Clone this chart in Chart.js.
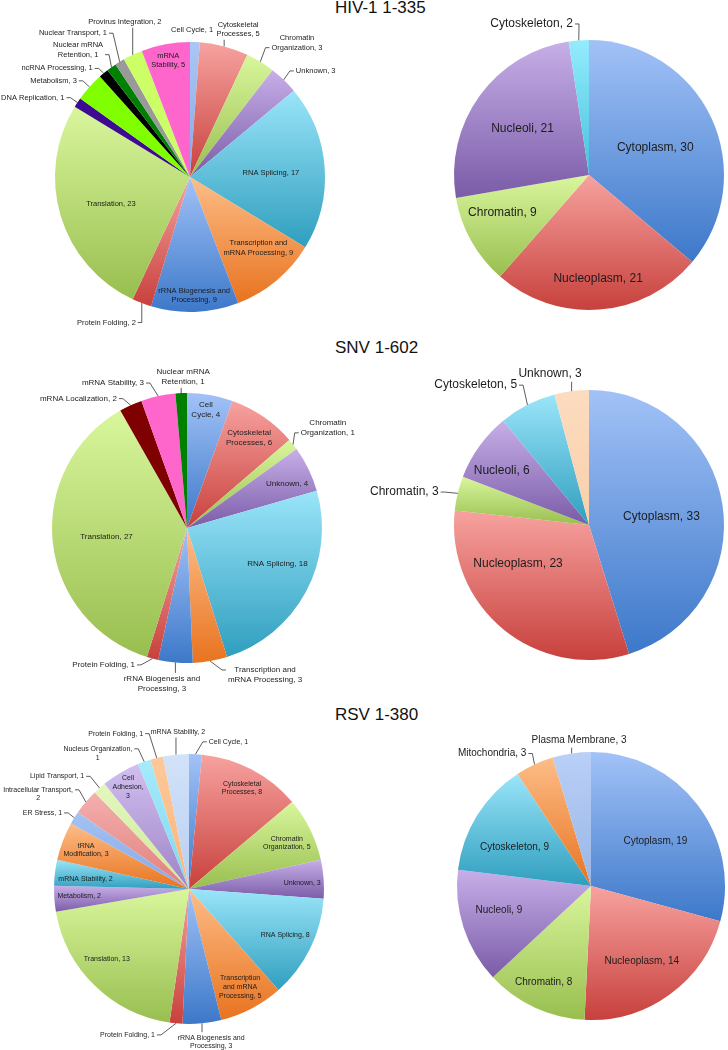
<!DOCTYPE html>
<html>
<head>
<meta charset="utf-8">
<script src="https://cdn.jsdelivr.net/npm/chart.js@4.4.0/dist/chart.umd.min.js"></script>
<style>
  body { margin: 0; background: #fff; width: 728px; height: 1050px; position: relative; overflow: hidden; font-family: "Liberation Sans", Arial, sans-serif; }
  .title { position: absolute; left: 335px; font-size: 17px; line-height: 1; color: #111; white-space: nowrap; }
  canvas { position: absolute; }
</style>
</head>
<body>
<div class="title" style="top:-1px">HIV-1 1-335</div>
<div class="title" style="top:339px">SNV 1-602</div>
<div class="title" style="top:706px">RSV 1-380</div>

<canvas id="hivFunc" width="364" height="345" style="left:0;top:0"></canvas>
<canvas id="hivLoc" width="364" height="345" style="left:364px;top:0"></canvas>
<canvas id="snvFunc" width="364" height="355" style="left:0;top:345px"></canvas>
<canvas id="snvLoc" width="364" height="355" style="left:364px;top:345px"></canvas>
<canvas id="rsvFunc" width="364" height="350" style="left:0;top:700px"></canvas>
<canvas id="rsvLoc" width="364" height="350" style="left:364px;top:700px"></canvas>

<script>
// data
const hivFuncLabels = ['Cell Cycle', 'Cytoskeletal Processes', 'Chromatin Organization', 'Unknown', 'RNA Splicing',
  'Transcription and mRNA Processing', 'rRNA Biogenesis and Processing', 'Protein Folding', 'Translation',
  'DNA Replication', 'Metabolism', 'ncRNA Processing', 'Nuclear mRNA Retention', 'Nuclear Transport',
  'Provirus Integration', 'mRNA Stability'];
const hivFuncValues = [1, 5, 3, 3, 17, 9, 9, 2, 23, 1, 3, 1, 1, 1, 2, 5];
const hivLocLabels = ['Cytoplasm', 'Nucleoplasm', 'Chromatin', 'Nucleoli', 'Cytoskeleton'];
const hivLocValues = [30, 21, 9, 21, 2];

const snvFuncLabels = ['Cell Cycle', 'Cytoskeletal Processes', 'Chromatin Organization', 'Unknown', 'RNA Splicing',
  'Transcription and mRNA Processing', 'rRNA Biogenesis and Processing', 'Protein Folding', 'Translation',
  'mRNA Localization', 'mRNA Stability', 'Nuclear mRNA Retention'];
const snvFuncValues = [4, 6, 1, 4, 18, 3, 3, 1, 27, 2, 3, 1];
const snvLocLabels = ['Cytoplasm', 'Nucleoplasm', 'Chromatin', 'Nucleoli', 'Cytoskeleton', 'Unknown'];
const snvLocValues = [33, 23, 3, 6, 5, 3];

const rsvFuncLabels = ['Cell Cycle', 'Cytoskeletal Processes', 'Chromatin Organization', 'Unknown', 'RNA Splicing',
  'Transcription and mRNA Processing', 'rRNA Biogenesis and Processing', 'Protein Folding', 'Translation',
  'Metabolism', 'mRNA Stability', 'tRNA Modification', 'ER Stress', 'Intracellular Transport', 'Lipid Transport',
  'Cell Adhesion', 'Nucleus Organization', 'Protein Folding', 'mRNA Stability'];
const rsvFuncValues = [1, 8, 5, 3, 8, 5, 3, 1, 13, 2, 2, 3, 1, 2, 1, 3, 1, 1, 2];
const rsvLocLabels = ['Cytoplasm', 'Nucleoplasm', 'Chromatin', 'Nucleoli', 'Cytoskeleton', 'Mitochondria', 'Plasma Membrane'];
const rsvLocValues = [19, 14, 8, 9, 9, 3, 3];

// colours: [top, bottom] gradient or flat
const BLUE = ['#a2c2f7', '#3c78c9'];
const RED = ['#f7a29f', '#c7403c'];
const GREEN = ['#d9f69c', '#98be4f'];
const PURPLE = ['#c7afe8', '#7a5ba7'];
const CYAN = ['#9ae5f9', '#2f9ebe'];
const ORANGE = ['#fdbd88', '#e8731f'];

const hivFuncColors = [['#a9c6f5', '#86a9e6'], RED, GREEN, PURPLE, CYAN, ORANGE, BLUE, RED, GREEN,
  '#3d0a91', '#80ff00', '#000000', '#008000', '#999999', '#ccff66', '#ff66cc'];
const hivLocColors = [BLUE, RED, GREEN, PURPLE, ['#94ecfc', '#45c2de']];
const snvFuncColors = [BLUE, RED, GREEN, PURPLE, CYAN, ORANGE, BLUE, RED, GREEN, '#7f0000', '#ff66cc', '#008000'];
const snvLocColors = [BLUE, RED, GREEN, PURPLE, CYAN, ['#fcdcc0', '#f9cfa9']];
const rsvFuncColors = [BLUE, RED, GREEN, PURPLE, CYAN, ORANGE, BLUE, RED, GREEN, PURPLE, CYAN, ORANGE,
  ['#a4c2f3', '#86a9e6'], ['#f4b0ae', '#e07e7b'], ['#e4f7bd', '#cde99a'], ['#d2bff0', '#9d83c6'],
  ['#a6ebfb', '#7fd6ef'], ['#fdc99a', '#fbb479'], ['#d2e2f8', '#b8cff2']];
const rsvLocColors = [BLUE, RED, GREEN, PURPLE, CYAN, ORANGE, ['#b9d0f7', '#9ab6e6']];

// label placement: radius factor, angle nudge (deg), align, leader side, words per line, leader line
const P = (r, da, al, lead, lines, li) => ({ r, da, al, lead, lines, li });

const hivFuncPlace = [
  P(1.09, -1.3), P(1.15, 3.4, 'c', 'bottom', [1]), P(1.27, 7.2, 'c', 'left', [1], 1), P(1.11, 1, 'l', 'left'),
  P(0.60, 1.2), P(0.73, -4.2, 'c', null, [2]), P(0.88, 0.1, 'c', null, [3]), P(1.15, -0.5, 'r', 'right'),
  P(0.62, -2.3), P(1.10, -1.2, 'r', 'right'), P(1.10, -1.5, 'r', 'right'), P(1.08, -2.1, 'r', 'right'),
  P(1.14, 1.2, 'r', 'right', [2], 1), P(1.23, 1.4, 'r', 'right'), P(1.245, 2.3, 'c', 'bottom'),
  P(0.88, -0.1, 'c', null, [1])
];
const hivLocPlace = [P(0.53, 2.8), P(0.77, -0.7), P(0.70, 5.7), P(0.60, -0.9), P(1.125, -1.7, 'r', 'right')];
const snvFuncPlace = [
  P(0.885, -0.8, 'c', null, [1]), P(0.81, 0.1, 'c', null, [1]), P(1.28, 2.8, 'c', 'left', [1], 1), P(0.81, 2.2),
  P(0.72, -6.8), P(1.13, -5.7, 'l', 'left', [2], 0), P(1.17, 4.2, 'c', 'top', [3]), P(1.085, 6, 'r', 'right'),
  P(0.60, -0.1), P(1.09, -3.8, 'r', 'right'), P(1.12, -4.2, 'r', 'right'), P(1.12, 1, 'c', 'bottom', [2])
];
const snvLocPlace = [P(0.54, 2.3), P(0.60, 21.7), P(1.14, -1.2, 'r', 'right'), P(0.76, -4),
  P(1.165, -0.1, 'r', 'right'), P(1.16, -7, 'c', 'bottom')];
const rsvFuncPlace = [
  P(1.10, 4.9, 'l', 'left'), P(0.845, 0, 'c', null, [1]), P(0.80, 1.2, 'c', null, [1]), P(0.84, 1.2),
  P(0.79, -0.7), P(0.82, 0.2, 'c', null, [1, 2]), P(1.145, -2.7, 'c', 'top', [3]), P(1.11, 7.6, 'r', 'right'),
  P(0.80, 5.2), P(0.815, 0.6), P(0.77, -1.4), P(0.815, -0.1, 'c', null, [1]), P(1.096, -0.9, 'r', 'right'),
  P(1.11, -0.9, 'r', 'right', [2], 0), P(1.14, -1.4, 'r', 'right'), P(0.88, -0.4, 'c', null, [1, 1]),
  P(1.09, -3.3, 'r', 'right', [2], 0), P(1.20, -2.6, 'r', 'right'), P(1.165, 1.5, 'c', 'bottom')
];
const rsvLocPlace = [P(0.585, 2.7), P(0.68, 2.1), P(0.80, 1.3), P(0.71, 3.5), P(0.64, -5),
  P(1.10, -1.1, 'r', 'right'), P(1.09, 3.6, 'c', 'bottom')];

// top-to-bottom gradient over each slice's own box, like the office charts
function shade(c, colors) {
  if (c.dataIndex == null) return '#ccc';
  const col = colors[c.dataIndex];
  if (typeof col === 'string') return col;
  const area = c.chart.chartArea;
  if (!area) return col[1];
  const cx = (area.left + area.right) / 2, cy = (area.top + area.bottom) / 2;
  const R = Math.min(area.right - area.left, area.bottom - area.top) / 2;
  const vals = c.dataset.data;
  const total = vals.reduce((s, v) => s + v, 0);
  let before = 0;
  for (let k = 0; k < c.dataIndex; k++) before += vals[k];
  const a0 = -Math.PI / 2 + before / total * 2 * Math.PI;
  const a1 = a0 + vals[c.dataIndex] / total * 2 * Math.PI;
  const ys = [cy, cy + R * Math.sin(a0), cy + R * Math.sin(a1)];
  if (a0 <= Math.PI / 2 && a1 >= Math.PI / 2) ys.push(cy + R);
  const top = Math.min(...ys), bot = Math.max(...ys);
  const g = c.chart.ctx.createLinearGradient(0, top, 0, bot + 0.5);
  g.addColorStop(0, col[0]);
  g.addColorStop(1, col[1]);
  return g;
}

const sliceLabels = {
  id: 'sliceLabels',
  afterDatasetsDraw(chart, args, opts) {
    const { ctx } = chart;
    const meta = chart.getDatasetMeta(0);
    const ds = chart.data.datasets[0];
    const lh = opts.size * 1.25;
    ctx.save();
    ctx.font = opts.size + 'px "Liberation Sans", Arial, sans-serif';
    ctx.fillStyle = '#1c1c1c';
    ctx.strokeStyle = '#333';
    ctx.lineWidth = 0.8;
    ctx.textAlign = 'center';
    ctx.textBaseline = 'middle';
    meta.data.forEach((arc, i) => {
      const p = opts.place[i];
      const { x, y, startAngle, endAngle, outerRadius: R } = arc;
      const mid = (startAngle + endAngle) / 2;
      const a = mid + (p.da || 0) * Math.PI / 180;
      const ax = x + Math.cos(a) * p.r * R, ay = y + Math.sin(a) * p.r * R;
      const words = (chart.data.labels[i] + ', ' + ds.data[i]).split(' ');
      const lines = [];
      let k = 0;
      (p.lines || []).forEach(n => { lines.push(words.slice(k, k + n).join(' ')); k += n; });
      lines.push(words.slice(k).join(' '));
      const bw = Math.max(...lines.map(s => ctx.measureText(s).width));
      const bh = lines.length * lh;
      let left = ax - bw / 2;
      if (p.al === 'r') left = ax - bw;
      else if (p.al === 'l') left = ax;
      const top = ay - bh / 2;
      lines.forEach((s, j) => ctx.fillText(s, left + bw / 2, top + lh * (j + 0.5)));
      if (p.lead) {
        const ex = x + Math.cos(mid) * R, ey = y + Math.sin(mid) * R;
        ctx.beginPath();
        if (p.lead === 'top' || p.lead === 'bottom') {
          const sx = Math.min(Math.max(ex, left + 2), left + bw - 2);
          const sy = p.lead === 'top' ? top - 1 : top + bh + 1;
          ctx.moveTo(sx, sy);
          ctx.lineTo(ex, ey);
        } else {
          const ly = p.li == null ? ay : top + lh * (p.li + 0.5);
          const dir = p.lead === 'right' ? 1 : -1;
          const sx = p.lead === 'right' ? left + bw + 2 : left - 2;
          ctx.moveTo(sx, ly);
          ctx.lineTo(sx + dir * 4, ly);
          ctx.lineTo(ex, ey);
        }
        ctx.stroke();
      }
    });
    ctx.restore();
  }
};

// rect: canvas [left, top, w, h]; pie: absolute [cx, cy, r]
function makePie(id, rect, pie, labels, values, colors, place, size) {
  const [cl, ct, w, h] = rect;
  const [cx, cy, r] = pie;
  return new Chart(document.getElementById(id), {
    type: 'pie',
    data: {
      labels: labels,
      datasets: [{
        data: values,
        backgroundColor: (c) => shade(c, colors),
        borderWidth: 0,
        hoverOffset: 0
      }]
    },
    options: {
      responsive: false,
      animation: false,
      events: [],
      devicePixelRatio: 1,
      layout: {
        padding: {
          left: cx - r - cl,
          top: cy - r - ct,
          right: cl + w - (cx + r),
          bottom: ct + h - (cy + r)
        }
      },
      plugins: {
        legend: { display: false },
        tooltip: { enabled: false },
        sliceLabels: { place: place, size: size }
      }
    },
    plugins: [sliceLabels]
  });
}

makePie('hivFunc', [0, 0, 364, 345], [190, 177, 135], hivFuncLabels, hivFuncValues, hivFuncColors, hivFuncPlace, 7.5);
makePie('hivLoc', [364, 0, 364, 345], [589, 175, 135], hivLocLabels, hivLocValues, hivLocColors, hivLocPlace, 12);
makePie('snvFunc', [0, 345, 364, 355], [187, 528, 135], snvFuncLabels, snvFuncValues, snvFuncColors, snvFuncPlace, 8);
makePie('snvLoc', [364, 345, 364, 355], [589, 525, 135], snvLocLabels, snvLocValues, snvLocColors, snvLocPlace, 12);
makePie('rsvFunc', [0, 700, 364, 350], [189, 889, 135], rsvFuncLabels, rsvFuncValues, rsvFuncColors, rsvFuncPlace, 7);
makePie('rsvLoc', [364, 700, 364, 350], [591, 886, 134], rsvLocLabels, rsvLocValues, rsvLocColors, rsvLocPlace, 10);
</script>
</body>
</html>
